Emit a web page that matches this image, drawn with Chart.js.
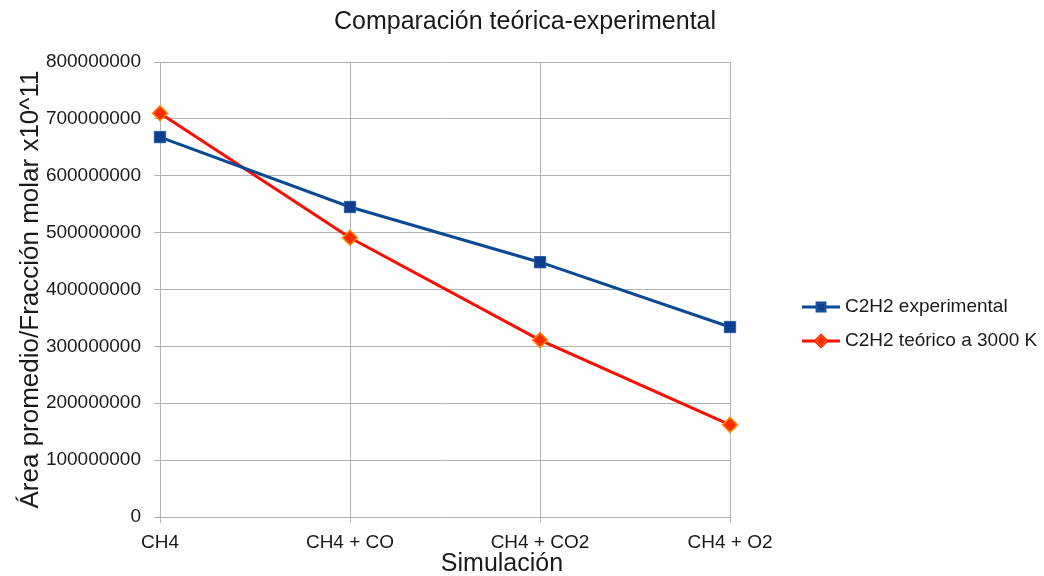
<!DOCTYPE html>
<html>
<head>
<meta charset="utf-8">
<script src="https://cdn.jsdelivr.net/npm/chart.js@4/dist/chart.umd.min.js"></script>
<style>
  html, body { margin: 0; padding: 0; background: #ffffff; }
  #wrap { width: 1044px; height: 576px; position: relative; }
</style>
</head>
<body>
<div id="wrap"><canvas id="chart" width="1044" height="576"></canvas></div>
<script>
// Simulation cases on the x axis
const categories = ['CH4', 'CH4 + CO', 'CH4 + CO2', 'CH4 + O2'];
// Average area / molar fraction (x10^11)
const experimental = [668000000, 545000000, 448000000, 334000000];
const theoretical3000K = [710000000, 491000000, 311000000, 162000000];
const seriesNames = ['C2H2 experimental', 'C2H2 teórico a 3000 K'];
const yTicks = [0, 100000000, 200000000, 300000000, 400000000, 500000000, 600000000, 700000000, 800000000];
const chartTitle = 'Comparación teórica-experimental';
const xAxisTitle = 'Simulación';
const yAxisTitle = 'Área promedio/Fracción molar x10^11';

const FONT = '"Liberation Sans", Arial, Helvetica, sans-serif';
const GRID = '#b3b3b3';
const TEXT = '#1a1a1a';

// Chart title and x-axis title, placed relative to the whole canvas
const pageTexts = {
  id: 'pageTexts',
  afterDraw(chart) {
    const ctx = chart.ctx;
    ctx.save();
    ctx.fillStyle = TEXT;
    ctx.textAlign = 'center';
    ctx.textBaseline = 'middle';
    ctx.font = '25px ' + FONT;
    ctx.fillText(chartTitle, 525, 22);
    ctx.font = '25px ' + FONT;
    ctx.fillText(xAxisTitle, 502, 564);
    ctx.restore();
  }
};

// Legend drawn to the right of the plot, reading names and styles from the datasets
const sideLegend = {
  id: 'sideLegend',
  afterDraw(chart) {
    const ctx = chart.ctx;
    const x0 = 802, x1 = 840, tx = 845;
    const rows = [307, 341];
    ctx.save();
    chart.data.datasets.forEach((ds, i) => {
      const y = rows[i];
      ctx.strokeStyle = ds.borderColor;
      ctx.lineWidth = 3;
      ctx.beginPath();
      ctx.moveTo(x0, y);
      ctx.lineTo(x1, y);
      ctx.stroke();
      Chart.helpers.drawPoint(ctx, {
        pointStyle: ds.pointStyle,
        radius: 5.5,
        borderWidth: 1
      }, (x0 + x1) / 2, y);
      ctx.fillStyle = ds.pointBackgroundColor;
      ctx.strokeStyle = ds.pointBorderColor;
      ctx.lineWidth = 1;
      ctx.fill();
      ctx.stroke();
      ctx.fillStyle = TEXT;
      ctx.font = '19px ' + FONT;
      ctx.textBaseline = 'middle';
      ctx.textAlign = 'left';
      ctx.fillText(ds.label, tx, y);
    });
    ctx.restore();
  }
};

new Chart(document.getElementById('chart'), {
  type: 'line',
  data: {
    labels: categories,
    datasets: [
      {
        label: seriesNames[0],
        data: experimental,
        borderColor: '#0a4a94',
        borderWidth: 3,
        pointStyle: 'rect',
        pointRadius: 8,
        pointHoverRadius: 8,
        pointBackgroundColor: '#0c3f8e',
        pointBorderColor: '#2a5aa8',
        pointBorderWidth: 1,
        tension: 0,
        fill: false
      },
      {
        label: seriesNames[1],
        data: theoretical3000K,
        borderColor: '#ff0d00',
        borderWidth: 3,
        pointStyle: 'rectRot',
        pointRadius: 7.5,
        pointHoverRadius: 7.5,
        pointBackgroundColor: '#ff2a00',
        pointBorderColor: '#ff8c00',
        pointBorderWidth: 1.5,
        tension: 0,
        fill: false
      }
    ]
  },
  options: {
    responsive: false,
    animation: false,
    events: [],
    layout: { padding: { top: 62, right: 314, left: 0, bottom: 0 } },
    plugins: {
      legend: { display: false },
      tooltip: { enabled: false },
      title: { display: false }
    },
    scales: {
      x: {
        type: 'category',
        offset: false,
        grid: { display: true, color: GRID, lineWidth: 1, drawTicks: true, tickLength: 6, tickColor: GRID },
        border: { display: true, color: GRID, width: 1 },
        ticks: { color: TEXT, font: { family: FONT, size: 19 }, padding: 8, maxRotation: 0, autoSkip: false },
        afterFit(scale) { scale.height = 59; }
      },
      y: {
        type: 'linear',
        min: 0,
        max: 800000000,
        afterBuildTicks(scale) { scale.ticks = yTicks.map(v => ({ value: v })); },
        grid: { display: true, color: GRID, lineWidth: 1, drawTicks: true, tickLength: 6, tickColor: GRID },
        border: { display: true, color: GRID, width: 1 },
        ticks: {
          color: TEXT,
          font: { family: FONT, size: 19 },
          padding: 13,
          callback: v => String(v)
        },
        title: {
          display: true,
          text: yAxisTitle,
          color: TEXT,
          font: { family: FONT, size: 26 },
          padding: { top: 15, bottom: 4 }
        },
        afterFit(scale) { scale.width = 160; }
      }
    }
  },
  plugins: [pageTexts, sideLegend]
});
</script>
</body>
</html>
